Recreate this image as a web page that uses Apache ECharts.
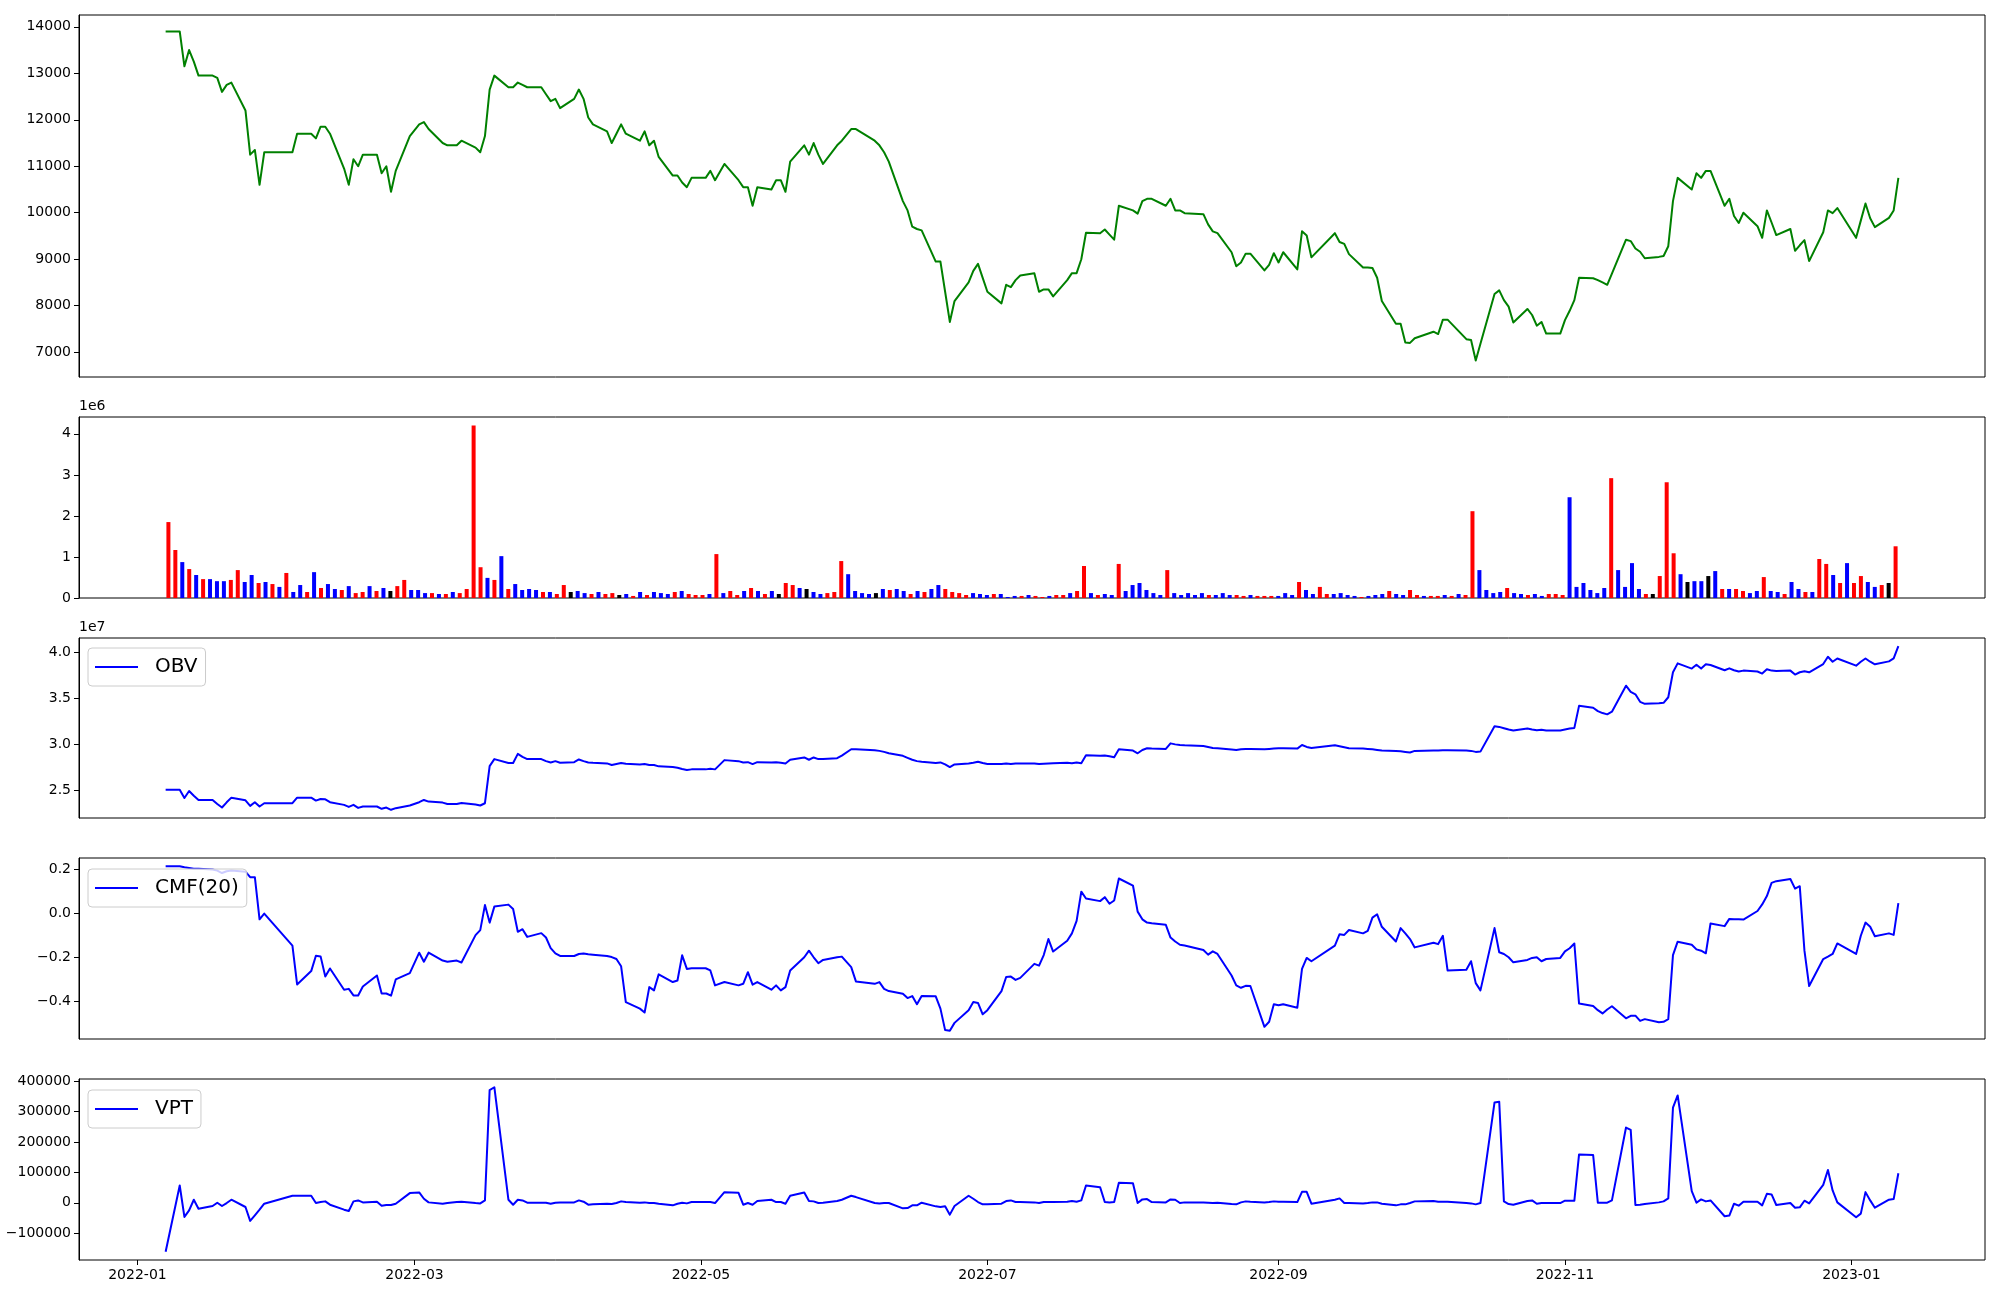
<!DOCTYPE html>
<html><head><meta charset="utf-8">
<script src="https://cdn.jsdelivr.net/npm/echarts@6/dist/echarts.min.js"></script>
<style>html,body{margin:0;padding:0;background:#fff}#c{width:2000px;height:1300px}</style>
</head><body><div id="c"></div>
<script>
// ---- trading dates ----
const dates = [
'2022-01-07','2022-01-10','2022-01-11','2022-01-12','2022-01-13','2022-01-14','2022-01-17','2022-01-18','2022-01-19','2022-01-20','2022-01-21','2022-01-24','2022-01-25','2022-01-26','2022-01-27','2022-01-28',
'2022-02-03','2022-02-04','2022-02-07','2022-02-08','2022-02-09','2022-02-10','2022-02-11','2022-02-14','2022-02-15','2022-02-16','2022-02-17','2022-02-18','2022-02-21','2022-02-22','2022-02-23','2022-02-24','2022-02-25','2022-02-28',
'2022-03-02','2022-03-03','2022-03-04','2022-03-07','2022-03-08','2022-03-10','2022-03-11','2022-03-14','2022-03-15','2022-03-16','2022-03-17','2022-03-18','2022-03-21','2022-03-22','2022-03-23','2022-03-24','2022-03-25','2022-03-28','2022-03-29','2022-03-30','2022-03-31',
'2022-04-01','2022-04-04','2022-04-05','2022-04-06','2022-04-07','2022-04-08','2022-04-11','2022-04-12','2022-04-13','2022-04-14','2022-04-15','2022-04-18','2022-04-19','2022-04-20','2022-04-21','2022-04-22','2022-04-25','2022-04-26','2022-04-27','2022-04-28','2022-04-29',
'2022-05-02','2022-05-03','2022-05-04','2022-05-06','2022-05-09','2022-05-10','2022-05-11','2022-05-12','2022-05-13','2022-05-16','2022-05-17','2022-05-18','2022-05-19','2022-05-20','2022-05-23','2022-05-24','2022-05-25','2022-05-26','2022-05-27','2022-05-30','2022-05-31',
'2022-06-02','2022-06-03','2022-06-07','2022-06-08','2022-06-09','2022-06-10','2022-06-13','2022-06-14','2022-06-15','2022-06-16','2022-06-17','2022-06-20','2022-06-21','2022-06-22','2022-06-23','2022-06-24','2022-06-27','2022-06-28','2022-06-29','2022-06-30',
'2022-07-01','2022-07-04','2022-07-05','2022-07-06','2022-07-07','2022-07-08','2022-07-11','2022-07-12','2022-07-13','2022-07-14','2022-07-15','2022-07-18','2022-07-19','2022-07-20','2022-07-21','2022-07-22','2022-07-25','2022-07-26','2022-07-27','2022-07-28','2022-07-29',
'2022-08-01','2022-08-02','2022-08-03','2022-08-04','2022-08-05','2022-08-08','2022-08-09','2022-08-10','2022-08-11','2022-08-12','2022-08-16','2022-08-17','2022-08-18','2022-08-19','2022-08-22','2022-08-23','2022-08-24','2022-08-25','2022-08-26','2022-08-29','2022-08-30','2022-08-31',
'2022-09-01','2022-09-02','2022-09-05','2022-09-06','2022-09-07','2022-09-08','2022-09-13','2022-09-14','2022-09-15','2022-09-16','2022-09-19','2022-09-20','2022-09-21','2022-09-22','2022-09-23','2022-09-26','2022-09-27','2022-09-28','2022-09-29','2022-09-30',
'2022-10-04','2022-10-05','2022-10-06','2022-10-07','2022-10-11','2022-10-12','2022-10-13','2022-10-14','2022-10-17','2022-10-18','2022-10-19','2022-10-20','2022-10-21','2022-10-24','2022-10-25','2022-10-26','2022-10-27','2022-10-28','2022-10-31',
'2022-11-01','2022-11-02','2022-11-03','2022-11-04','2022-11-07','2022-11-08','2022-11-09','2022-11-10','2022-11-11','2022-11-14','2022-11-15','2022-11-16','2022-11-17','2022-11-18','2022-11-21','2022-11-22','2022-11-23','2022-11-24','2022-11-25','2022-11-28','2022-11-29','2022-11-30',
'2022-12-01','2022-12-02','2022-12-05','2022-12-06','2022-12-07','2022-12-08','2022-12-09','2022-12-12','2022-12-13','2022-12-14','2022-12-15','2022-12-16','2022-12-19','2022-12-20','2022-12-21','2022-12-22','2022-12-23','2022-12-26','2022-12-27','2022-12-28','2022-12-29',
'2023-01-02','2023-01-03','2023-01-04','2023-01-05','2023-01-06','2023-01-09','2023-01-10','2023-01-11'
];

// ---- close price ----
const price = [
13900,13900,13150,13500,13250,12950,12950,12900,12600,12750,12800,12200,11250,11350,10600,11300,
11300,11700,11700,11600,11850,11850,11700,10950,10600,11150,11000,11250,11250,10850,11000,10450,10900,11650,
11900,11950,11800,11500,11450,11450,11550,11400,11300,11650,12650,12950,12700,12700,12800,12750,12700,12700,12550,12400,12450,
12250,12450,12650,12450,12050,11900,11750,11500,11700,11900,11700,11550,11750,11450,11550,11200,10800,10800,10650,10550,10750,
10750,10900,10700,11050,10700,10550,10550,10150,10550,10500,10700,10700,10450,11100,11450,11250,11500,11250,11050,11450,11550,
11800,11800,11550,11450,11300,11100,10250,10050,9700,9650,9620,8950,8950,8300,7650,8100,8500,8750,8900,8600,
8300,8050,8450,8400,8550,8650,8700,8300,8350,8350,8200,8550,8700,8700,9000,9570,9560,9640,9530,9420,10150,
10050,9980,10250,10300,10300,10150,10300,10050,10050,9990,9970,9750,9600,9560,9150,8850,8930,9120,9120,8760,8880,9130,
8930,9150,8780,9600,9510,9040,9560,9370,9330,9110,8820,8820,8810,8600,8100,7610,7610,7210,7200,7300,
7440,7390,7700,7700,7280,7260,6820,7180,8250,8330,8120,7980,7640,7930,7800,7570,7650,7400,7400,
7690,7890,8120,8600,8590,8550,8500,8450,8690,9420,9390,9230,9160,9020,9050,9070,9280,10250,10750,10500,10850,10750,
10900,10900,10150,10300,9930,9780,10000,9710,9460,10050,9790,9520,9650,9180,9300,9410,8960,9580,10050,9990,10100,
9460,9830,10200,9880,9690,9890,10050,10750
];

// ---- volume (millions) and bar colour codes ----
const volumeM = [
1.85,1.17,0.875,0.705,0.56,0.46,0.46,0.41,0.41,0.44,
0.68,0.39,0.56,0.365,0.39,0.34,0.27,0.61,0.146,0.316,
0.146,0.63,0.243,0.34,0.22,0.195,0.29,0.12,0.146,0.29,
0.17,0.243,0.17,0.29,0.44,0.195,0.195,0.12,0.12,0.097,
0.097,0.146,0.12,0.22,4.2,0.75,0.49,0.44,1.02,0.22,
0.34,0.195,0.22,0.195,0.146,0.146,0.097,0.316,0.146,0.17,
0.12,0.097,0.146,0.097,0.12,0.073,0.097,0.05,0.146,0.073,
0.146,0.12,0.097,0.146,0.17,0.097,0.073,0.073,0.097,1.07,
0.12,0.17,0.073,0.17,0.243,0.17,0.097,0.17,0.097,0.365,
0.316,0.243,0.22,0.146,0.097,0.12,0.146,0.90,0.58,0.17,
0.12,0.097,0.12,0.22,0.195,0.22,0.17,0.097,0.17,0.146,
0.22,0.316,0.22,0.146,0.12,0.073,0.12,0.097,0.073,0.097,
0.097,0.024,0.05,0.05,0.073,0.05,0.024,0.05,0.073,0.073,
0.12,0.17,0.78,0.12,0.073,0.097,0.073,0.83,0.17,0.316,
0.365,0.195,0.12,0.073,0.68,0.12,0.073,0.12,0.073,0.12,
0.073,0.073,0.12,0.073,0.073,0.05,0.073,0.05,0.05,0.05,
0.05,0.12,0.073,0.39,0.195,0.097,0.27,0.097,0.097,0.12,
0.073,0.05,0.024,0.05,0.073,0.097,0.17,0.097,0.073,0.195,
0.073,0.05,0.05,0.05,0.073,0.05,0.097,0.073,2.115,0.68,
0.195,0.12,0.146,0.243,0.12,0.097,0.073,0.097,0.05,0.097,
0.097,0.073,2.455,0.27,0.365,0.195,0.12,0.243,2.92,0.68,
0.27,0.85,0.22,0.097,0.097,0.535,2.82,1.09,0.58,0.39,
0.41,0.41,0.535,0.656,0.22,0.22,0.22,0.17,0.12,0.17,
0.51,0.17,0.146,0.097,0.39,0.22,0.146,0.146,0.95,0.83,
0.56,0.365,0.85,0.365,0.535,0.39,0.27,0.316,0.365,1.26
];
const volColor = [
'rrbrbrbbbr','rbbrbrbrbb','rbrbbrbrrb','rbkrrbbbrb','rbrrrrbrbr',
'bbbbrbrrkb','brbrrkbrbr','bbbrbrrrbr','brrbrbrbkr','rbkbbrrrbb',
'bbkbrbbrbr','bbrrrrbbbr','bbbrbrrbrr','brrbrbbrbb','bbbbrbbbbb',
'rbbbrrbrrr','bbbrbbrrbb','bbrbbbrbbr','rbrrbrbrrb','bbbrbbrbbr',
'rrbbbbbbrb','bbbrkrrrbk','bbkbrbrrbb','rbbrbbrbrr','brbrrbbrkr'
].join('').split('');

// ---- OBV (units of 1e7) ----
const obvE7 = [
2.501,2.501,2.411,2.487,2.436,2.39,2.39,2.346,2.307,2.364,2.415,2.386,2.325,2.365,2.318,2.354,
2.354,2.415,2.415,2.383,2.40,2.397,2.365,2.336,2.314,2.336,2.303,2.318,2.318,2.293,2.307,2.282,2.30,2.329,
2.365,2.39,2.372,2.361,2.346,2.346,2.357,2.339,2.329,2.354,2.76,2.836,2.793,2.793,2.893,2.861,2.836,2.836,2.814,2.80,2.814,
2.796,2.803,2.832,2.814,2.80,2.796,2.789,2.771,2.782,2.793,2.785,2.778,2.782,2.771,2.771,2.757,2.749,2.742,2.728,2.717,2.724,
2.724,2.731,2.724,2.825,2.814,2.80,2.803,2.782,2.803,2.80,2.803,2.796,2.789,2.829,2.854,2.829,2.854,2.836,2.836,2.846,2.875,
2.944,2.944,2.933,2.926,2.915,2.90,2.872,2.85,2.829,2.814,2.807,2.793,2.80,2.778,2.749,2.778,2.789,2.796,2.807,2.793,
2.782,2.782,2.789,2.782,2.789,2.789,2.789,2.782,2.785,2.789,2.792,2.796,2.792,2.80,2.792,2.879,2.872,2.875,2.868,2.857,2.944,
2.929,2.90,2.936,2.954,2.951,2.947,3.008,2.997,2.99,2.987,2.98,2.969,2.958,2.954,2.94,2.936,2.944,2.947,2.947,2.944,2.947,2.951,
2.954,2.954,2.951,2.99,2.969,2.958,2.987,2.976,2.965,2.954,2.951,2.947,2.944,2.936,2.929,2.926,2.922,2.915,2.908,2.926,
2.929,2.929,2.933,2.933,2.929,2.926,2.915,2.918,3.195,3.188,3.174,3.159,3.149,3.17,3.159,3.152,3.156,3.149,3.149,
3.159,3.17,3.177,3.418,3.397,3.361,3.339,3.325,3.354,3.638,3.57,3.544,3.462,3.44,3.447,3.451,3.512,3.785,3.882,3.825,3.868,3.825,
3.872,3.864,3.807,3.828,3.807,3.793,3.803,3.793,3.771,3.818,3.803,3.80,3.803,3.76,3.785,3.796,3.785,3.875,3.954,3.90,3.936,
3.857,3.90,3.936,3.90,3.872,3.904,3.936,4.07
];

// ---- CMF(20) ----
const cmf = [
0.215,0.215,0.21,0.207,0.204,0.204,0.2,0.195,0.184,0.192,0.195,0.19,0.165,0.165,-0.027,-0.001,
-0.147,-0.324,-0.263,-0.193,-0.196,-0.288,-0.251,-0.348,-0.344,-0.374,-0.374,-0.333,-0.283,-0.365,-0.365,-0.375,-0.301,-0.272,
-0.179,-0.22,-0.179,-0.215,-0.22,-0.215,-0.224,-0.099,-0.076,0.038,-0.042,0.031,0.04,0.02,-0.084,-0.072,-0.107,-0.09,-0.11,-0.158,-0.182,
-0.194,-0.194,-0.185,-0.183,-0.186,-0.188,-0.194,-0.199,-0.208,-0.241,-0.404,-0.434,-0.452,-0.336,-0.351,-0.278,-0.313,-0.306,-0.191,-0.253,-0.25,
-0.25,-0.26,-0.328,-0.313,-0.328,-0.321,-0.268,-0.325,-0.313,-0.348,-0.328,-0.351,-0.336,-0.26,-0.2,-0.17,-0.2,-0.227,-0.212,-0.2,-0.197,
-0.245,-0.31,-0.321,-0.313,-0.344,-0.354,-0.366,-0.386,-0.377,-0.414,-0.377,-0.378,-0.434,-0.532,-0.535,-0.499,-0.441,-0.404,-0.408,-0.46,
-0.441,-0.354,-0.29,-0.288,-0.303,-0.294,-0.23,-0.238,-0.19,-0.117,-0.174,-0.125,-0.091,-0.034,0.099,0.068,0.056,0.074,0.044,0.059,0.159,
0.127,0.008,-0.027,-0.042,-0.045,-0.052,-0.11,-0.128,-0.143,-0.146,-0.167,-0.188,-0.173,-0.185,-0.283,-0.328,-0.339,-0.33,-0.331,-0.517,-0.494,-0.414,
-0.419,-0.414,-0.43,-0.253,-0.203,-0.218,-0.147,-0.095,-0.098,-0.076,-0.091,-0.08,-0.019,-0.004,-0.061,-0.128,-0.067,-0.091,-0.117,-0.155,
-0.134,-0.14,-0.102,-0.26,-0.257,-0.218,-0.318,-0.351,-0.067,-0.177,-0.185,-0.2,-0.223,-0.212,-0.203,-0.2,-0.218,-0.208,-0.203,
-0.173,-0.159,-0.137,-0.411,-0.422,-0.441,-0.456,-0.438,-0.423,-0.478,-0.467,-0.466,-0.49,-0.482,-0.496,-0.494,-0.482,-0.19,-0.129,-0.143,-0.164,-0.17,
-0.182,-0.046,-0.058,-0.025,-0.027,-0.027,-0.028,0.011,0.041,0.079,0.139,0.147,0.157,0.113,0.124,-0.17,-0.331,-0.208,-0.197,-0.185,-0.137,
-0.185,-0.102,-0.042,-0.061,-0.104,-0.091,-0.098,0.047
];

// ---- VPT ----
const vpt = [
-161e3,56.9e3,-46.5e3,-24.7e3,10.1e3,-19.3e3,-10.6e3,0.3e3,-10.6e3,-0.8e3,10.1e3,-13.8e3,-59.5e3,-41.1e3,-22.6e3,-3e3,
23.2e3,23.2e3,23.2e3,-0.8e3,2.5e3,4.7e3,-6.2e3,-22.6e3,-26.9e3,4.7e3,7.9e3,1.4e3,3.6e3,-9.5e3,-7.3e3,-7.3e3,-3e3,31.9e3,
34.1e3,13.4e3,1.4e3,-3e3,-0.8e3,2.5e3,3.6e3,-0.8e3,-1.9e3,7.9e3,370.4e3,380e3,10.1e3,-6.2e3,10.1e3,7.9e3,0.3e3,0.3e3,0.3e3,-3e3,0.3e3,
1.4e3,1.4e3,7.9e3,3.6e3,-6.2e3,-5.1e3,-3e3,-4.1e3,-0.8e3,4.7e3,2.5e3,0.3e3,1.4e3,-0.8e3,-0.8e3,-3e3,-8.4e3,-3e3,0.3e3,-1.9e3,2.5e3,
2.5e3,2.5e3,-0.8e3,35.1e3,33e3,-6.2e3,-0.8e3,-6.2e3,5.8e3,10.1e3,2.5e3,2.5e3,-3e3,23.2e3,34.1e3,5.8e3,4.7e3,-0.8e3,0.3e3,5.8e3,10.1e3,
23.2e3,18.8e3,-0.8e3,-1.9e3,-0.8e3,-0.8e3,-18.2e3,-17.1e3,-8.4e3,-8.4e3,0.3e3,-11.7e3,-13.8e3,-11.7e3,-38.9e3,-10.6e3,23.2e3,13.4e3,2.5e3,-5.1e3,
-5.1e3,-3e3,5.8e3,7.9e3,2.5e3,2.5e3,1.4e3,-0.8e3,2.5e3,2.5e3,2.5e3,3.6e3,5.8e3,3.6e3,7.9e3,56.9e3,51.5e3,2.5e3,1.4e3,2.5e3,65.6e3,
64.5e3,-0.8e3,11.2e3,12.3e3,2.5e3,1.4e3,11.2e3,10.1e3,-0.8e3,1.4e3,1.4e3,0.3e3,-0.8e3,0.3e3,-4.1e3,-5.1e3,1.4e3,4.7e3,3.6e3,1.4e3,2.5e3,4.7e3,
3.6e3,3.6e3,2.5e3,36.2e3,36.2e3,-3e3,10.1e3,14.5e3,-0.8e3,-0.8e3,-1.9e3,-0.8e3,1.4e3,1.4e3,-3e3,-8.4e3,-5.1e3,-5.1e3,-0.8e3,4.7e3,
5.8e3,3.6e3,3.6e3,3.6e3,-0.8e3,-1.9e3,-5.1e3,-0.8e3,330e3,332.3e3,4.7e3,-4.1e3,-6.2e3,5.8e3,7.9e3,-3e3,-0.8e3,-0.8e3,-0.8e3,
6.9e3,6.9e3,6.9e3,159.2e3,157.1e3,0.3e3,0.3e3,0.3e3,7.9e3,247.4e3,239.8e3,-7.3e3,-6.2e3,-4.1e3,1.4e3,4.7e3,14.5e3,312.7e3,353e3,38.4e3,0.3e3,11.2e3,
4.7e3,7.9e3,-44.3e3,-42.1e3,-3e3,-9.5e3,3.6e3,3.6e3,-8.4e3,29.7e3,27.5e3,-7.3e3,-0.8e3,-16e3,-14.9e3,6.9e3,-1.9e3,59.1e3,108.1e3,40.6e3,1.4e3,
-47.6e3,-35.6e3,35.1e3,7.9e3,-16e3,10.1e3,12.3e3,97.2e3
];

// ---- tick labels ----
const dateTickLabels = ['2022-01','2022-03','2022-05','2022-07','2022-09','2022-11','2023-01'];
const priceTicks = [7000,8000,9000,10000,11000,12000,13000,14000];
const volTicks = [0,1,2,3,4];
const obvTicks = [2.5,3.0,3.5,4.0];
const cmfTicks = [-0.4,-0.2,0.0,0.2];
const vptTicks = [-100000,0,100000,200000,300000,400000];

// ---- helpers ----
const dayOf = s => (Date.UTC(+s.slice(0,4), +s.slice(5,7)-1, +(s.slice(8,10)||'01')) - Date.UTC(2022,0,1)) / 864e5;
const days = dates.map(dayOf);
const pad = (lo, hi) => [lo - 0.05*(hi-lo), hi + 0.05*(hi-lo)];
const xr = pad(days[0], days[days.length-1]);
const vr = pad(-0.4, volumeM.length - 1 + 0.4);
const minus = s => String(s).replace('-', '\u2212');
const font = {fontFamily:'DejaVu Sans', fontSize:14, color:'#000'};
const colorMap = {r:'#ff0000', b:'#0000ff', k:'#000000'};
const dateTickDays = dateTickLabels.map(l => dayOf(l + '-01'));

const grids = [
  {top:15, height:362}, {top:417, height:181}, {top:638, height:180},
  {top:858, height:181}, {top:1079, height:181}
].map(g => Object.assign({left:79, right:15, show:true, borderColor:'#000', borderWidth:1, backgroundColor:'transparent'}, g));

function yAx(gi, range, ticks, fmt, name) {
  const ax = {type:'value', gridIndex:gi, min:range[0], max:range[1], position:'left',
    axisLine:{show:true, onZero:false, lineStyle:{color:'#000', width:1}},
    axisTick:{show:true, length:5, lineStyle:{color:'#000', width:1}, customValues:ticks},
    axisLabel:Object.assign({margin:8, customValues:ticks, formatter:fmt}, font),
    splitLine:{show:false}};
  if (name) Object.assign(ax, {name, nameLocation:'end', nameGap:4,
    nameTextStyle:Object.assign({align:'left', verticalAlign:'bottom'}, font)});
  return ax;
}
function xAx(gi, range, labelled) {
  const ax = {type:'value', gridIndex:gi, min:range[0], max:range[1], position:'bottom',
    axisLine:{show:false, onZero:false}, splitLine:{show:false},
    axisTick:{show:false}, axisLabel:{show:false}};
  if (labelled) {
    ax.axisTick = {show:true, length:5, lineStyle:{color:'#000', width:1}, customValues:dateTickDays};
    ax.axisLabel = Object.assign({show:true, margin:8, customValues:dateTickDays,
      formatter: v => { const k = dateTickDays.findIndex(d => Math.abs(d - v) < 0.5); return k >= 0 ? dateTickLabels[k] : ''; }}, font);
  }
  return ax;
}

const priceR = pad(Math.min(...price), Math.max(...price));
const obvR = pad(Math.min(...obvE7), Math.max(...obvE7));
const cmfR = pad(Math.min(...cmf), Math.max(...cmf));
const vptR = pad(Math.min(...vpt), Math.max(...vpt));
const volR = [0, Math.max(...volumeM) * 1.05];

const lineS = (name, gi, vals, color) => ({name, type:'line', xAxisIndex:gi, yAxisIndex:gi,
  data: vals.map((v,i) => [days[i], v]), symbol:'none', showSymbol:false,
  lineStyle:{color, width:2, join:'round'}, itemStyle:{color}, animation:false});

const legendBase = {orient:'horizontal', padding:[7,8,7,7], itemWidth:43, itemHeight:2, icon:'rect',
  backgroundColor:'rgba(255,255,255,0.8)', borderColor:'#cccccc', borderWidth:1, borderRadius:4,
  textStyle:{fontFamily:'DejaVu Sans', fontSize:20, color:'#000', lineHeight:24, padding:[0,0,0,12]}, selectedMode:false};

const option = {
  animation:false,
  backgroundColor:'#fff',
  grid: grids,
  xAxis: [xAx(0, xr), xAx(1, vr), xAx(2, xr), xAx(3, xr), xAx(4, xr, true)],
  yAxis: [
    yAx(0, priceR, priceTicks, v => String(v)),
    yAx(1, volR, volTicks, v => String(v), '1e6'),
    yAx(2, obvR, obvTicks, v => v.toFixed(1), '1e7'),
    yAx(3, cmfR, cmfTicks, v => minus(v.toFixed(1))),
    yAx(4, vptR, vptTicks, v => minus(String(v)))
  ],
  legend: [
    Object.assign({data:['OBV'], left:88, top:648}, legendBase),
    Object.assign({data:['CMF(20)'], left:88, top:869}, legendBase),
    Object.assign({data:['VPT'], left:88, top:1090}, legendBase)
  ],
  series: [
    lineS('Close', 0, price, '#008000'),
    {name:'Volume', type:'bar', xAxisIndex:1, yAxisIndex:1, barWidth:4, animation:false,
     data: volumeM.map((v,i) => ({value:[i, v], itemStyle:{color:colorMap[volColor[i]]}}))},
    lineS('OBV', 2, obvE7, '#0000ff'),
    lineS('CMF(20)', 3, cmf, '#0000ff'),
    lineS('VPT', 4, vpt, '#0000ff')
  ]
};
const chart = echarts.init(document.getElementById('c'), null, {renderer:'canvas'});
chart.setOption(option);
</script></body></html>
